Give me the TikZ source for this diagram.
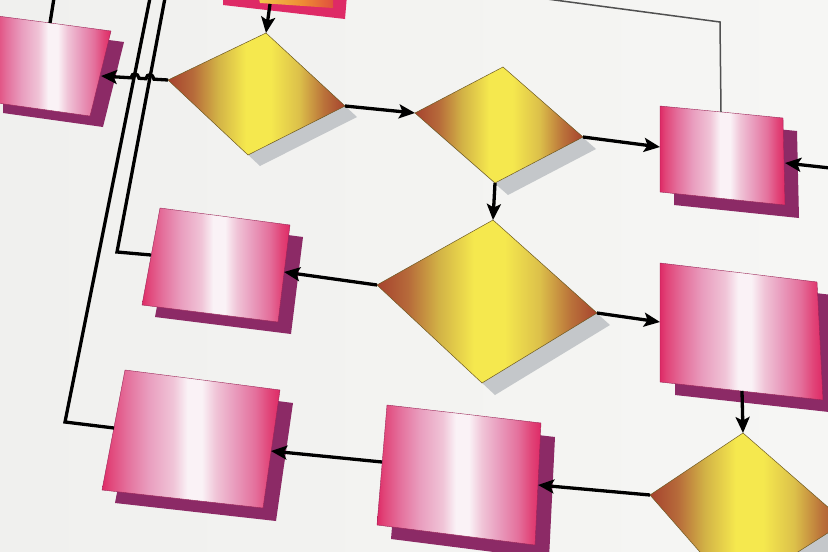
\documentclass[tikz,border=0pt]{standalone}
\usetikzlibrary{arrows.meta,calc}
\definecolor{paper}{HTML}{F6F6F4}
\definecolor{paperd}{HTML}{F0F0EE}
\definecolor{pk1}{HTML}{DE2A66}
\definecolor{pk1b}{HTML}{E14478}
\definecolor{pk2}{HTML}{E4709C}
\definecolor{pk3}{HTML}{E99DBE}
\definecolor{pk3l}{HTML}{F0C4D7}
\definecolor{pkw}{HTML}{FAF2F6}
\definecolor{pkedge}{HTML}{9A2456}
\definecolor{pkshadow}{HTML}{8C2A66}
\definecolor{db}{HTML}{A6422E}
\definecolor{db2}{HTML}{B66A3A}
\definecolor{dm}{HTML}{D2B246}
\definecolor{dy}{HTML}{F5E84E}
\definecolor{dm2}{HTML}{DCC04A}
\definecolor{db3}{HTML}{BA723A}
\definecolor{dedge}{HTML}{6E5A22}
\definecolor{gshadow}{HTML}{C4C7CA}
\definecolor{oy}{HTML}{F2C84A}
\definecolor{oo}{HTML}{EE8A34}
\definecolor{or}{HTML}{E0503E}
\definecolor{thinline}{HTML}{505050}
\pgfdeclarehorizontalshading{pinkgrad}{100bp}{color(0bp)=(pk1); color(25bp)=(pk1); color(27bp)=(pk1b); color(32bp)=(pk2); color(38bp)=(pk3); color(45bp)=(pk3l); color(49bp)=(pkw); color(53bp)=(pkw); color(57bp)=(pk3l); color(62bp)=(pk3); color(68bp)=(pk2); color(72bp)=(pk1b); color(75bp)=(pk1); color(100bp)=(pk1)}
\pgfdeclarehorizontalshading{diagrad}{100bp}{color(0bp)=(db); color(25bp)=(db); color(32bp)=(db2); color(39bp)=(dm); color(47bp)=(dy); color(54bp)=(dy); color(62bp)=(dm2); color(69bp)=(db3); color(75bp)=(db); color(100bp)=(db)}
\pgfdeclarehorizontalshading{topgrad}{100bp}{color(0bp)=(oy); color(25bp)=(oy); color(55bp)=(oo); color(75bp)=(or); color(100bp)=(or)}
\tikzset{
  pinkshadow/.style={fill=pkshadow},
  pinkface/.style={shading=pinkgrad, draw=pkedge, line width=0.4pt},
  greyshadow/.style={fill=gshadow},
  diaface/.style={shading=diagrad, draw=dedge, line width=0.5pt},
  conn/.style={line width=3.3pt, black, line join=miter},
  arr/.style={conn, -{Stealth[length=16pt,width=14pt,inset=3.5pt]}},
  thin conn/.style={line width=1.5pt, thinline},
}
% name, four corners, shadow offset
\newcommand\flowbox[6]{%
  \fill[pinkshadow,shift={(#6)}] (#2)--(#3)--(#4)--(#5)--cycle;
  \shadedraw[pinkface] (#2)--(#3)--(#4)--(#5)--cycle;
  \coordinate (#1) at ($0.25*(#2)+0.25*(#3)+0.25*(#4)+0.25*(#5)$);
}
\newcommand\decision[6]{%
  \fill[greyshadow,shift={(#6)}] (#2)--(#3)--(#4)--(#5)--cycle;
  \shadedraw[diaface] (#2)--(#3)--(#4)--(#5)--cycle;
  \coordinate (#1) at ($0.25*(#2)+0.25*(#3)+0.25*(#4)+0.25*(#5)$);
}
\begin{document}
\begin{tikzpicture}[x=1pt,y=-1pt]
\useasboundingbox (0,0) rectangle (828,552);
\clip (0,0) rectangle (828,552);
\shade[left color=paperd, right color=paper] (0,0) rectangle (828,552);

% top shape (partially visible)
\fill[pk1] (223,-5) -- (347,-5) -- (345,19) -- (223,5) -- cycle;
\shade[shading=topgrad] (258,-5) -- (333,-5) -- (333,8) -- (260,3) -- cycle;

% boxes
\flowbox{L1}{-10,15}{111,31}{90,116}{-10,102}{13,11}
\flowbox{L2}{160,208}{290,225}{278,322}{142,305}{13,12}
\flowbox{L3}{125,370}{280,390}{263,508}{102,490}{13,13}
\flowbox{B2}{387,405}{541,423}{535,545}{377,525}{14,14}
\flowbox{R1}{660,106}{783,118}{785,205}{660,192}{14,13}
\flowbox{R2}{660,263}{817,282}{823,400}{660,382}{15,13}

% decisions
\decision{D1}{266,33}{345,106}{248,155}{168,80}{12,11}
\decision{D2}{503,67}{583,137}{495,183}{415,113}{13,12}
\decision{D3}{493,220}{597,313}{482,383}{377,285}{13,12}
\decision{D4}{743,433}{845,522}{735,592}{650,495}{13,12}

% connector end points
\coordinate (top-out) at (270,4);
\coordinate (D1-t) at (266,33);
\coordinate (D1-l) at (168,80);
\coordinate (D1-r) at (345,106);
\coordinate (L1-r) at (101,76);
\coordinate (L1-t) at (50,23);
\coordinate (D2-l) at (415,113);
\coordinate (D2-r) at (583,137);
\coordinate (D2-b) at (495,183);
\coordinate (R1-l) at (660,147);
\coordinate (R1-r) at (785,163);
\coordinate (R1-t) at (721,112);
\coordinate (D3-t) at (493,220);
\coordinate (D3-l) at (377,285);
\coordinate (D3-r) at (597,313);
\coordinate (L2-r) at (284,272);
\coordinate (L2-l) at (151,255);
\coordinate (R2-l) at (660,322);
\coordinate (R2-b) at (742,391);
\coordinate (D4-t) at (743,433);
\coordinate (D4-l) at (650,495);
\coordinate (B2-r) at (538,485);
\coordinate (B2-l) at (382,462);
\coordinate (L3-r) at (271,451);
\coordinate (L3-l) at (114,428);
\coordinate (in-right) at (830,168);
\coordinate (in-top1) at (150,-2);
\coordinate (in-top2) at (165,-2);
\coordinate (in-top3) at (547,-1);
\coordinate (in-top4) at (54,-2);

% connectors
\draw[conn] (in-top4) -- (L1-t);
\draw[conn] (in-top1) -- (65,422) -- (L3-l);
\draw[conn] (in-top2) -- (117,252) -- (L2-l);
\draw[thin conn] (in-top3) -- (720,22) -- (R1-t);
\draw[arr] (top-out) -- (D1-t);
\draw[arr] (D1-l) -- (154,79.2) .. controls (153,73.5) and (147,73) .. (146,78.7)
   -- (139,78.3) .. controls (138,72.6) and (132,72.2) .. (131,77.8) -- (L1-r);
\draw[arr] (D1-r) -- (D2-l);
\draw[arr] (D2-r) -- (R1-l);
\draw[arr] (in-right) -- (R1-r);
\draw[arr] (D2-b) -- (D3-t);
\draw[arr] (D3-l) -- (L2-r);
\draw[arr] (D3-r) -- (R2-l);
\draw[arr] (R2-b) -- (D4-t);
\draw[arr] (D4-l) -- (B2-r);
\draw[arr] (B2-l) -- (L3-r);
\end{tikzpicture}
\end{document}
